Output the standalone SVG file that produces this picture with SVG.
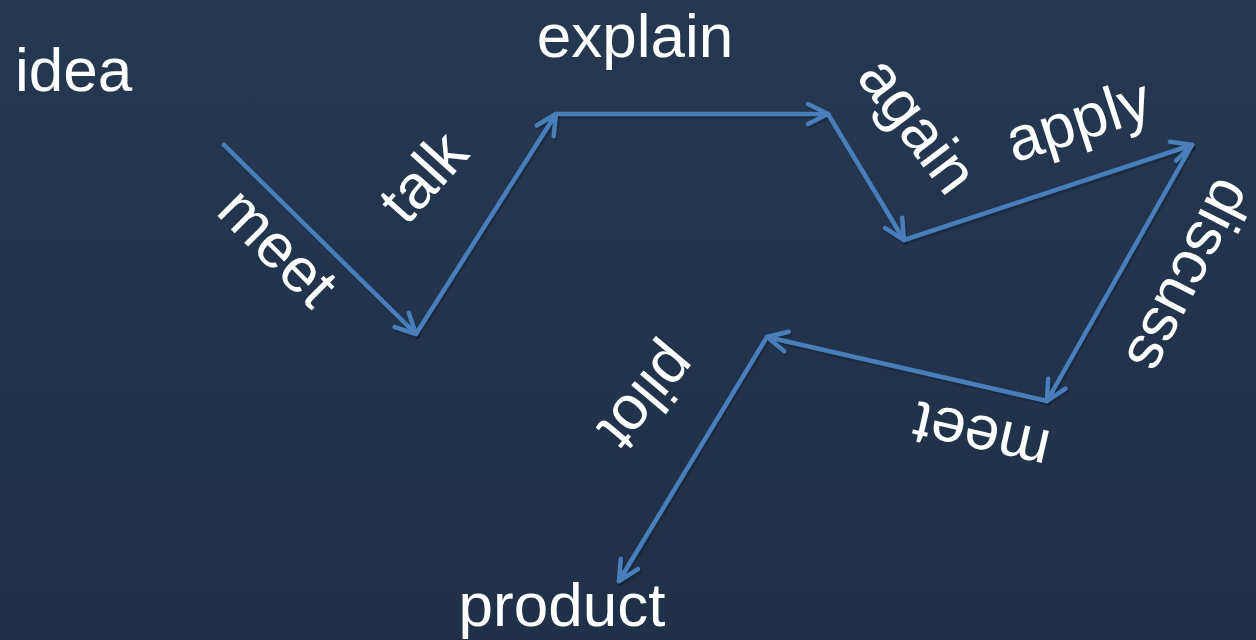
<svg xmlns="http://www.w3.org/2000/svg" width="1256" height="640" viewBox="0 0 1256 640">
<defs>
<linearGradient id="bg" x1="0" y1="0" x2="0" y2="1">
<stop offset="0" stop-color="#253852"/>
<stop offset="1" stop-color="#1f3048"/>
</linearGradient>
<marker id="arr" viewBox="-3 -3 26 26" refX="20" refY="10" markerWidth="26" markerHeight="26" markerUnits="userSpaceOnUse" orient="auto">
<path d="M0,0 L20,10 L0,20" fill="none" stroke="#4a7ebb" stroke-width="4.5" stroke-linecap="round" stroke-linejoin="round"/>
</marker>
<marker id="arrs" viewBox="-3 -3 26 26" refX="20" refY="10" markerWidth="26" markerHeight="26" markerUnits="userSpaceOnUse" orient="auto">
<path d="M0,0 L20,10 L0,20" fill="none" stroke="#0f1a28" stroke-opacity="0.35" stroke-width="4.5" stroke-linecap="round" stroke-linejoin="round"/>
</marker>
</defs>
<style>
.lbl{font-family:"Liberation Sans",Arial,sans-serif;font-size:62px;fill:#ffffff}
.c{fill:none;stroke:#4a7ebb;stroke-width:4.5;stroke-linecap:round;marker-end:url(#arr)}
.s{fill:none;stroke:#0f1a28;stroke-opacity:0.35;stroke-width:4.5;stroke-linecap:round;marker-end:url(#arrs)}
</style>
<rect width="1256" height="640" fill="url(#bg)"/>
<g id="connectors">
<g transform="translate(1.5,2.5)">
<line class="s" x1="224" y1="145" x2="416" y2="334"/>
<line class="s" x1="416" y1="334" x2="556" y2="114"/>
<line class="s" x1="556" y1="114" x2="828" y2="114"/>
<line class="s" x1="828" y1="114" x2="904" y2="240"/>
<line class="s" x1="904" y1="240" x2="1192" y2="145"/>
<line class="s" x1="1192" y1="145" x2="1047" y2="401"/>
<line class="s" x1="1047" y1="401" x2="767" y2="337"/>
<line class="s" x1="767" y1="337" x2="619" y2="581"/>
</g>
<line class="c" x1="224" y1="145" x2="416" y2="334"/>
<line class="c" x1="416" y1="334" x2="556" y2="114"/>
<line class="c" x1="556" y1="114" x2="828" y2="114"/>
<line class="c" x1="828" y1="114" x2="904" y2="240"/>
<line class="c" x1="904" y1="240" x2="1192" y2="145"/>
<line class="c" x1="1192" y1="145" x2="1047" y2="401"/>
<line class="c" x1="1047" y1="401" x2="767" y2="337"/>
<line class="c" x1="767" y1="337" x2="619" y2="581"/>
</g>
<g id="idea"><text class="lbl" x="15" y="91">idea</text></g>
<g id="explain"><text class="lbl" x="635" y="57" text-anchor="middle">explain</text></g>
<g id="product"><text class="lbl" x="562" y="626" text-anchor="middle">product</text></g>
<g id="meet1"><text class="lbl" text-anchor="middle" transform="translate(278,247) rotate(45)" y="21">meet</text></g>
<g id="talk"><text class="lbl" text-anchor="middle" transform="translate(423,177) rotate(-48)" y="21">talk</text></g>
<g id="again"><text class="lbl" text-anchor="middle" transform="translate(918,125) rotate(53)" y="21">again</text></g>
<g id="apply"><text class="lbl" text-anchor="middle" transform="translate(1078,120) rotate(-18)" y="21">apply</text></g>
<g id="discuss"><text class="lbl" text-anchor="middle" transform="translate(1190,276) rotate(117)" y="21">discuss</text></g>
<g id="meet2"><text class="lbl" text-anchor="middle" transform="translate(981,437) rotate(193)" y="21">meet</text></g>
<g id="pilot"><text class="lbl" text-anchor="middle" transform="translate(648,398) rotate(130)" y="21">pilot</text></g>
</svg>
